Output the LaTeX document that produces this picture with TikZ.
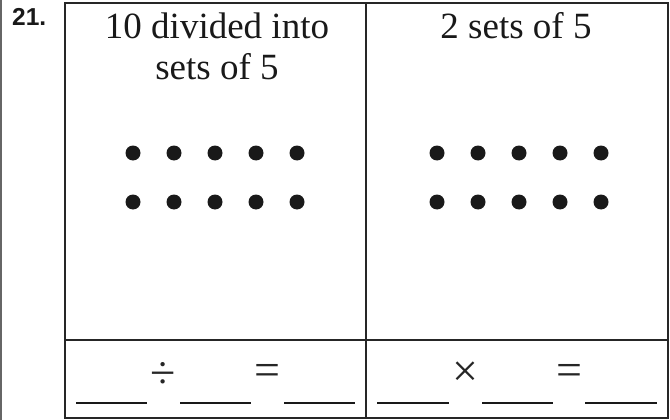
\documentclass[tikz,border=0pt]{standalone}
\usepackage{fontspec}
\setmainfont{Liberation Serif}
\newfontfamily\headfont{Liberation Serif}
\newfontfamily\labelfont{Liberation Sans}
\begin{document}
\begin{tikzpicture}[x=1pt,y=-1pt,
  frame/.style={line width=1.3pt,draw=black!85},
  blank/.style={line width=2.6pt,draw=black!90},
  dot/.style={circle,fill=black!90,inner sep=0pt,minimum size=15pt},
  head/.style={font=\headfont\fontsize{37}{41}\selectfont,inner sep=0pt,align=center,text=black!90},
  op/.style={inner sep=0pt,text=black!85,font=\headfont\fontsize{46}{46}\selectfont}]
\useasboundingbox (0,0) rectangle (670,420);
\draw[line width=1.2pt,draw=black!60] (1,0) -- (1,420);
\node[anchor=base west,inner sep=0pt,font=\labelfont\bfseries\fontsize{24.5}{25}\selectfont,text=black!90] (num) at (12,26) {21.};
\draw[frame] (65,3) rectangle (668,418);
\draw[frame] (366,3) -- (366,418);
\draw[frame] (65,340) -- (668,340);
% headings
\node[head,anchor=base] (h1a) at (217,39) {10 divided into};
\node[head,anchor=base] (h1b) at (217,80) {sets of 5};
\node[head,anchor=base] (h2) at (516,39) {2 sets of 5};
% dots
\foreach \i/\x in {1/133,2/174,3/215,4/256,5/297}{
  \node[dot] (la\i) at (\x,153) {};
  \node[dot] (lb\i) at (\x,202) {};
}
\foreach \i/\x in {1/437,2/478,3/519,4/560,5/601}{
  \node[dot] (ra\i) at (\x,153) {};
  \node[dot] (rb\i) at (\x,202) {};
}
% blanks
\draw[blank] (76,403) -- (147,403);
\draw[blank] (180,403) -- (251,403);
\draw[blank] (284,403) -- (355,403);
\draw[blank] (377,403) -- (449,403);
\draw[blank] (482,403) -- (553,403);
\draw[blank] (585,403) -- (657,403);
% operators
\node[op] (div) at (163,375) {÷};
\node[op] (eq1) at (267,375) {=};
\node[op] (mul) at (465,374) {×};
\node[op] (eq2) at (569,375) {=};
\end{tikzpicture}
\end{document}
